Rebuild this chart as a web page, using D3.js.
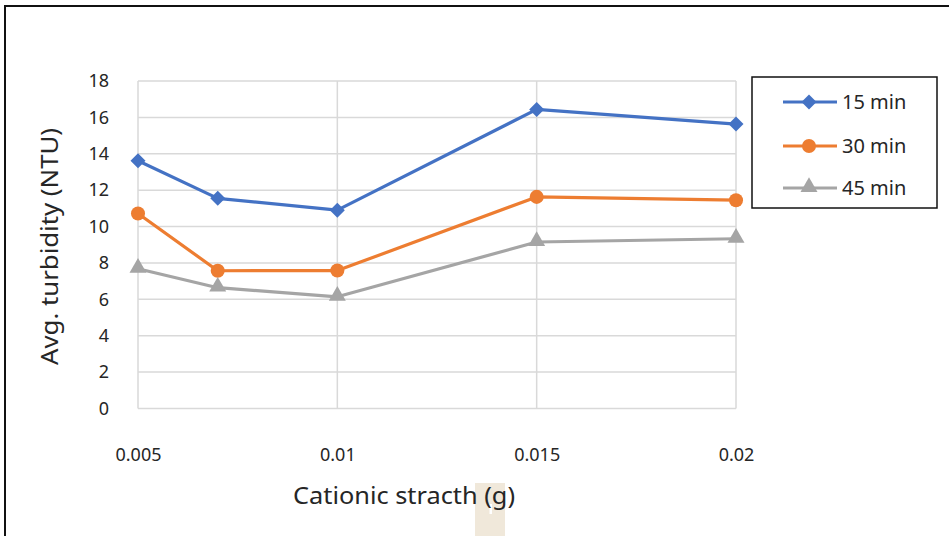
<!DOCTYPE html>
<html><head><meta charset="utf-8">
<script src="https://cdn.jsdelivr.net/npm/d3@7"></script>
<style>body{margin:0;background:#fff}svg{display:block}text{font-family:"Noto Sans",sans-serif;fill:#262626}</style>
</head><body>
<svg id="c" width="949" height="536"></svg>
<script>
const xValues = [0.005, 0.007, 0.01, 0.015, 0.02];
const series15 = [13.62, 11.55, 10.9, 16.44, 15.63];
const series30 = [10.72, 7.57, 7.58, 11.63, 11.45];
const series45 = [7.68, 6.64, 6.14, 9.15, 9.33];
const seriesNames = ["15 min", "30 min", "45 min"];
const xTicks = [0.005, 0.01, 0.015, 0.02];
const xTickLabels = ["0.005", "0.01", "0.015", "0.02"];
const yTicks = [0, 2, 4, 6, 8, 10, 12, 14, 16, 18];

const svg = d3.select("#c");
const x = d3.scaleLinear().domain([0.005, 0.02]).range([138, 736]);
const y = d3.scaleLinear().domain([0, 18]).range([408.5, 81]);
const colors = ["#4472C4", "#ED7D31", "#A5A5A5"];

function marker(k) {
  if (k === 0) return "M0,-7.5L7.5,0L0,7.5L-7.5,0Z";
  if (k === 1) return d3.symbol().type(d3.symbolCircle).size(155)();
  return d3.symbol().type(d3.symbolTriangle).size(125)();
}

// outer border
svg.append("path").attr("d", "M5,536 L5,6 L949,6").attr("fill", "none").attr("stroke", "#111").attr("stroke-width", 2);

// artifact rect
svg.append("rect").attr("x", 475).attr("y", 483).attr("width", 30).attr("height", 53).attr("fill", "#f0e8da");
svg.append("rect").attr("x", 489.5).attr("y", 504).attr("width", 2.5).attr("height", 10).attr("fill", "#fff");

// gridlines
const g = svg.append("g");
g.selectAll(".hg").data(yTicks).join("line")
  .attr("x1", 138).attr("x2", 736).attr("y1", d => y(d)).attr("y2", d => y(d))
  .attr("stroke", "#d9d9d9").attr("stroke-width", 1.5);
g.selectAll(".vg").data(xTicks).join("line")
  .attr("x1", d => x(d)).attr("x2", d => x(d)).attr("y1", y(18)).attr("y2", y(0))
  .attr("stroke", "#d9d9d9").attr("stroke-width", 1.5);

// y axis labels
const yAxis = d3.axisLeft(y).tickValues(yTicks).tickSize(0).tickPadding(0);
const ya = svg.append("g").attr("transform", "translate(109,0)").call(yAxis);
ya.select(".domain").remove();
ya.selectAll("text").attr("font-size", 18).attr("font-family", "Noto Sans").attr("fill", "#262626");

// x axis labels
const xAxis = d3.axisBottom(x).tickValues(xTicks).tickFormat((d, i) => xTickLabels[i]).tickSize(0).tickPadding(0);
const xa = svg.append("g").attr("transform", "translate(0,448)").call(xAxis);
xa.select(".domain").remove();
xa.selectAll("text").attr("font-size", 18).attr("font-family", "Noto Sans").attr("fill", "#262626");

// titles
svg.append("text").attr("x", 404).attr("y", 504).attr("text-anchor", "middle").attr("font-size", 23)
  .attr("textLength", 222).attr("lengthAdjust", "spacingAndGlyphs").text("Cationic stracth (g)");
svg.append("text").attr("transform", "translate(58,246.5) rotate(-90)").attr("text-anchor", "middle").attr("font-size", 23)
  .attr("textLength", 237).attr("lengthAdjust", "spacingAndGlyphs").text("Avg. turbidity (NTU)");

// series
const all = [series15, series30, series45];
const line = d3.line().x((d, i) => x(xValues[i])).y(d => y(d));
all.forEach((s, k) => {
  svg.append("path").datum(s).attr("d", line).attr("fill", "none").attr("stroke", colors[k]).attr("stroke-width", 3.2).attr("stroke-linejoin", "round");
  svg.selectAll(".m" + k).data(s).join("path")
    .attr("transform", (d, i) => `translate(${x(xValues[i])},${y(d) + (k === 2 ? -1 : 0)})`)
    .attr("d", marker(k)).attr("fill", colors[k]);
});

// legend
const lg = svg.append("g");
lg.append("rect").attr("x", 752).attr("y", 77).attr("width", 185).attr("height", 131).attr("fill", "#fff").attr("stroke", "#111").attr("stroke-width", 1.5);
const rows = [102, 146, 188];
seriesNames.forEach((n, k) => {
  lg.append("line").attr("x1", 783).attr("x2", 837).attr("y1", rows[k]).attr("y2", rows[k]).attr("stroke", colors[k]).attr("stroke-width", 3.2);
  lg.append("path").attr("transform", `translate(809,${rows[k] + (k === 2 ? -1 : 0)})`).attr("d", marker(k)).attr("fill", colors[k]);
  lg.append("text").attr("x", 842).attr("y", rows[k]).attr("dy", "0.35em").attr("font-size", 20).text(n);
});
</script>
</body></html>
